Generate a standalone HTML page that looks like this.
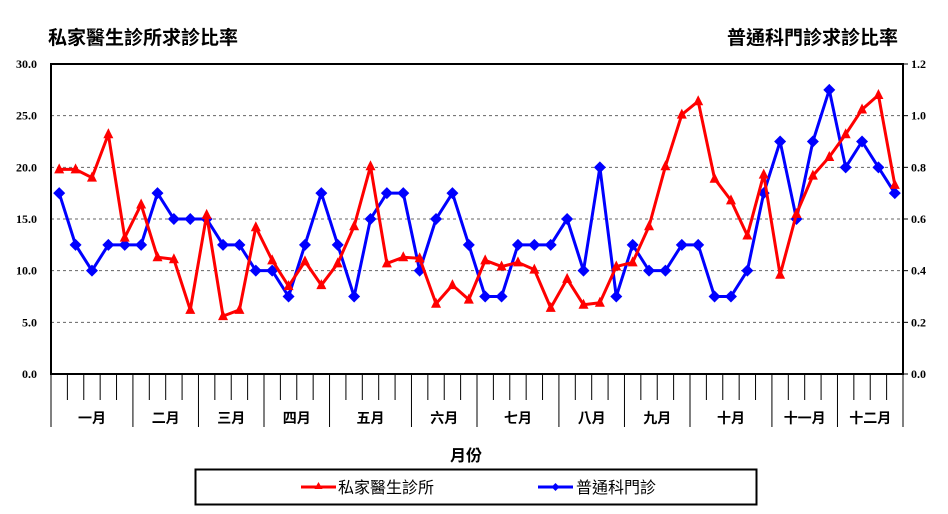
<!DOCTYPE html>
<html><head><meta charset="utf-8"><style>
body{margin:0;background:#fff}
svg{display:block}
.t{font-family:"Liberation Serif","Noto Serif CJK SC",serif;font-weight:bold;font-size:12px}
.c{font-family:"Liberation Sans","Noto Sans CJK TC",sans-serif;font-size:16px;font-weight:bold}
.m{font-family:"Liberation Sans","Noto Sans CJK TC",sans-serif;font-size:14px;font-weight:bold}
</style></head><body>
<svg id="s" width="948" height="514" xmlns="http://www.w3.org/2000/svg">
<rect width="948" height="514" fill="#fff"/>
<text class="c" x="48" y="44" style="font-size:19px" textLength="190">私家醫生診所求診比率</text>
<text class="c" x="727" y="44" style="font-size:19px" textLength="171">普通科門診求診比率</text>
<text class="c" x="450" y="461">月份</text>
<rect x="195.5" y="469.5" width="561" height="35" fill="none" stroke="#000" stroke-width="2"/>
<line x1="301" y1="487" x2="336" y2="487" stroke="#f00" stroke-width="3"/>
<polygon points="318.5,482 322.5,489 314.5,489" fill="#f00"/>
<text class="c" x="338" y="493" style="font-weight:normal">私家醫生診所</text>
<line x1="538" y1="487" x2="573" y2="487" stroke="#00f" stroke-width="3"/>
<polygon points="555.5,483 559.5,487 555.5,491 551.5,487" fill="#00f"/>
<text class="c" x="576" y="493" style="font-weight:normal">普通科門診</text>
<g id="g"></g>
</svg>
<script>
var red=[19.8,19.8,19.0,23.2,13.2,16.4,11.3,11.1,6.2,15.4,5.6,6.2,14.2,11.0,8.5,10.9,8.6,10.7,14.3,20.1,10.7,11.3,11.2,6.8,8.6,7.2,11.0,10.4,10.8,10.1,6.4,9.2,6.7,6.9,10.4,10.8,14.3,20.1,25.1,26.4,18.9,16.8,13.4,19.3,9.6,15.5,19.2,21.0,23.2,25.6,27.0,18.3];
var blue=[17.5,12.5,10,12.5,12.5,12.5,17.5,15,15,15,12.5,12.5,10,10,7.5,12.5,17.5,12.5,7.5,15,17.5,17.5,10,15,17.5,12.5,7.5,7.5,12.5,12.5,12.5,15,10,20,7.5,12.5,10,10,12.5,12.5,7.5,7.5,10,17.5,22.5,15,22.5,27.5,20,22.5,20,17.5];
var L=51,R=903,T=64,B=374,w=(R-L)/52;
function X(i){return L+w*(i+0.5)}function Y(v){return B-(B-T)*v/30}
var h='';
for(var k=1;k<6;k++){var y=Y(k*5);h+='<line x1="'+L+'" x2="'+R+'" y1="'+y+'" y2="'+y+'" stroke="#666" stroke-dasharray="3,3"/>';}
for(var k=0;k<=6;k++){var y=Y(k*5);h+='<text class="t" x="37" y="'+(y+4)+'" text-anchor="end">'+(k*5).toFixed(1)+'</text>';
h+='<text class="t" x="911" y="'+(y+4)+'">'+(k*0.2).toFixed(1)+'</text>';
h+='<line x1="'+R+'" x2="'+(R+5)+'" y1="'+y+'" y2="'+y+'" stroke="#000"/>';}
var bounds=[0,5,9,13,17,22,26,31,35,39,44,48,52];
var names=['一月','二月','三月','四月','五月','六月','七月','八月','九月','十月','十一月','十二月'];
for(var k=0;k<=52;k++){var x=L+w*k;var lg=bounds.indexOf(k)>=0;h+='<line x1="'+x+'" x2="'+x+'" y1="'+B+'" y2="'+(lg?427:400)+'" stroke="#000"/>';}
for(var m=0;m<12;m++){var cx=L+w*(bounds[m]+bounds[m+1])/2;h+='<text class="m" x="'+cx+'" y="423" text-anchor="middle">'+names[m]+'</text>';}
h+='<rect x="'+L+'" y="'+T+'" width="'+(R-L)+'" height="'+(B-T)+'" fill="none" stroke="#000" stroke-width="2"/>';
var pr='',pb='';
for(var i=0;i<52;i++){pr+=X(i)+','+Y(red[i])+' ';pb+=X(i)+','+Y(blue[i])+' ';}
h+='<polyline points="'+pb+'" fill="none" stroke="#00f" stroke-width="3"/>';
for(var i=0;i<52;i++){var x=X(i),y=Y(blue[i]);h+='<polygon points="'+x+','+(y-6)+' '+(x+6)+','+y+' '+x+','+(y+6)+' '+(x-6)+','+y+'" fill="#00f"/>';}
h+='<polyline points="'+pr+'" fill="none" stroke="#f00" stroke-width="3"/>';
for(var i=0;i<52;i++){var x=X(i),y=Y(red[i]);h+='<polygon points="'+x+','+(y-6)+' '+(x+5)+','+(y+4)+' '+(x-5)+','+(y+4)+'" fill="#f00"/>';}
document.getElementById('g').innerHTML=h;
</script>
</body></html>
